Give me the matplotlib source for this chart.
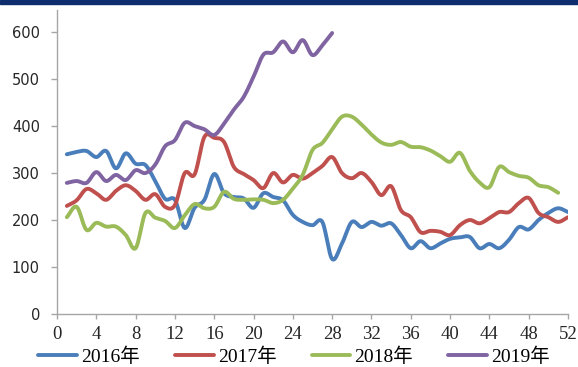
import numpy as np
import matplotlib
matplotlib.use('Agg')
import matplotlib.pyplot as plt
from matplotlib.patches import Rectangle
from matplotlib.font_manager import FontProperties

weeks_2016 = list(range(1, 53))
y2016 = [340, 345, 347, 334, 347, 310, 342, 320, 317, 283, 245, 243, 183, 226, 243,
         298, 257, 249, 246, 226, 257, 249, 242, 211, 196, 189, 196, 117, 150, 196,
         185, 196, 188, 193, 168, 140, 155, 140, 150, 160, 163, 164, 140, 149, 140,
         158, 185, 180, 200, 215, 225, 217]
weeks_2017 = list(range(1, 53))
y2017 = [230, 242, 266, 257, 243, 262, 274, 262, 243, 255, 228, 232, 300, 297, 377,
         375, 366, 313, 298, 285, 268, 300, 280, 296, 288, 300, 315, 334, 300, 289,
         300, 281, 253, 272, 221, 206, 174, 177, 175, 168, 189, 200, 193, 204, 217,
         217, 236, 247, 215, 206, 196, 206]
weeks_2018 = list(range(1, 52))
y2018 = [206, 228, 179, 194, 186, 186, 168, 140, 215, 205, 198, 183, 210, 234, 225,
         228, 260, 245, 243, 244, 243, 236, 243, 267, 296, 349, 364, 393, 420, 420,
         403, 382, 365, 360, 366, 356, 355, 348, 336, 324, 343, 305, 280, 270, 313,
         302, 294, 290, 274, 270, 258]
weeks_2019 = list(range(1, 29))
y2019 = [279, 283, 279, 302, 283, 296, 285, 306, 300, 318, 357, 370, 407, 400, 393,
         381, 405, 435, 462, 505, 552, 557, 580, 557, 583, 551, 572, 598]

labels = ['2016年', '2017年', '2018年', '2019年']
colors = ['#4a7ebb', '#c0504d', '#9bbb59', '#8064a2']
x_ticks = list(range(0, 53, 4))
y_ticks = list(range(0, 601, 100))


def smooth(x, y, n=12):
    P = np.column_stack([np.asarray(x, float), np.asarray(y, float)])
    P = np.vstack([2 * P[0] - P[1], P, 2 * P[-1] - P[-2]])
    t = np.linspace(0, 1, n, endpoint=False)[:, None]
    out = []
    for i in range(1, len(P) - 2):
        p0, p1, p2, p3 = P[i - 1], P[i], P[i + 1], P[i + 2]
        seg = 0.5 * ((2 * p1) + (-p0 + p2) * t + (2 * p0 - 5 * p1 + 4 * p2 - p3) * t ** 2
                     + (-p0 + 3 * p1 - 3 * p2 + p3) * t ** 3)
        out.append(seg)
    out.append(P[-2][None, :])
    out = np.vstack(out)
    return out[:, 0], out[:, 1]


fig = plt.figure(figsize=(5.78, 3.67), dpi=100)
fig.patches.append(Rectangle((0, 1 - 3.5 / 367), 1, 3.5 / 367, transform=fig.transFigure,
                             color='#0d2d6c', zorder=10))
ax = fig.add_axes([57 / 578, 1 - 314 / 367, (568 - 57) / 578, (314 - 10) / 367])

series = [(weeks_2016, y2016), (weeks_2017, y2017), (weeks_2018, y2018), (weeks_2019, y2019)]
handles = []
for (xs, ys), lab, c in zip(series, labels, colors):
    sx, sy = smooth(xs, ys)
    h, = ax.plot(sx, sy, color=c, lw=2.8, label=lab, solid_capstyle='round',
                 solid_joinstyle='round')
    handles.append(h)

ax.set_xlim(0, 52)
ax.set_ylim(0, 647)
ax.set_xticks(x_ticks)
ax.set_yticks(y_ticks)
for s in ['top', 'right']:
    ax.spines[s].set_visible(False)
for s in ['left', 'bottom']:
    ax.spines[s].set_color('#a6a6a6')
    ax.spines[s].set_linewidth(1.0)
ax.tick_params(axis='y', length=4.3, width=1, color='#a6a6a6', pad=8, labelsize=10.5,
               labelcolor='#262626')
ax.tick_params(axis='x', length=3.5, width=1, color='#a6a6a6', pad=5, labelsize=13.5,
               labelcolor='#262626')
for lab in ax.get_xticklabels():
    lab.set_fontfamily('Liberation Serif')

fig.legend(handles, labels, loc='center', bbox_to_anchor=(294 / 578, 1 - 356.5 / 367), ncol=4,
           frameon=False, handlelength=2.0, handletextpad=0.2, columnspacing=1.8,
           borderpad=0, prop=FontProperties(family=['Liberation Serif', 'Noto Sans CJK SC'],
                                            size=14))

fig.savefig('out.png', dpi=100, facecolor='white')
